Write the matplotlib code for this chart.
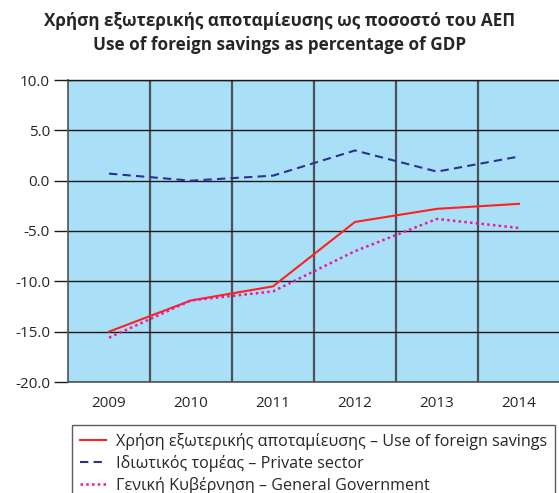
import matplotlib

matplotlib.use("Agg")
import matplotlib.pyplot as plt

plt.rcParams["font.family"] = ["Open Sans", "DejaVu Sans"]

YEARS = ["2009", "2010", "2011", "2012", "2013", "2014"]
FOREIGN = [-15.0, -11.9, -10.5, -4.1, -2.8, -2.3]
PRIVATE = [0.7, 0.0, 0.5, 3.0, 0.9, 2.4]
GOVERNMENT = [-15.6, -11.9, -11.0, -7.0, -3.8, -4.7]
Y_TICKS = [10.0, 5.0, 0.0, -5.0, -10.0, -15.0, -20.0]

TITLE = "Χρήση εξωτερικής αποταμίευσης ως ποσοστό του ΑΕΠ\nUse of foreign savings as percentage of GDP"
LABELS = [
    "Χρήση εξωτερικής αποταμίευσης – Use of foreign savings",
    "Ιδιωτικός τομέας – Private sector",
    "Γενική Κυβέρνηση – General Government",
]

BG = "#aadff8"
INK = "#262626"

fig = plt.figure(figsize=(5.59, 4.93), dpi=100, facecolor="white")
ax = fig.add_axes([68 / 559, 1 - 382 / 493, (560 - 68) / 559, (382 - 80) / 493])
ax.set_facecolor(BG)

x = [i + 0.5 for i in range(len(YEARS))]
ax.plot(x, FOREIGN, color="#ff2020", lw=1.5, label=LABELS[0], zorder=3)
ax.plot(x, PRIVATE, color="#2e3192", lw=1.5, ls=(0, (4, 2.5)), label=LABELS[1], zorder=3)
ax.plot(x, GOVERNMENT, color="#f0169c", lw=1.8, ls=(0, (1, 1.3)), label=LABELS[2], zorder=3)

ax.set_xlim(0, len(YEARS))
ax.set_ylim(-20, 10)
ax.set_yticks(Y_TICKS)
ax.set_yticklabels([f"{v:.1f}" for v in Y_TICKS])
ax.set_xticks(x)
ax.set_xticklabels(YEARS)
for i in range(1, len(YEARS)):
    ax.axvline(i, color="#4a5458", lw=1.6, zorder=1)
for v in Y_TICKS:
    ax.axhline(v, color="#1a1a1a", lw=1.0, zorder=1)
for s in ax.spines.values():
    s.set_color("#4a5458")
    s.set_linewidth(1.2)
ax.spines["top"].set_color("#1a1a1a")
ax.spines["top"].set_linewidth(1.0)
ax.tick_params(axis="y", length=10, width=1.0, color="#1a1a1a", labelsize=11, labelcolor=INK, pad=3)
ax.tick_params(axis="x", length=0, labelsize=11, labelcolor=INK, pad=10)

fig.text(0.5, 1 - 33 / 493, TITLE, ha="center", va="center", fontsize=12.3, fontweight="bold",
         color=INK, linespacing=1.4)

leg = fig.legend(loc="upper left", bbox_to_anchor=(72 / 559, 1 - 425 / 493), fontsize=11.6,
                 frameon=True, fancybox=False, edgecolor="#333333", handlelength=1.6,
                 handletextpad=0.6, borderpad=0.5, labelspacing=0.3, borderaxespad=0)
leg.get_frame().set_linewidth(1.0)
for t in leg.get_texts():
    t.set_color(INK)

fig.savefig("out.png", dpi=100)
